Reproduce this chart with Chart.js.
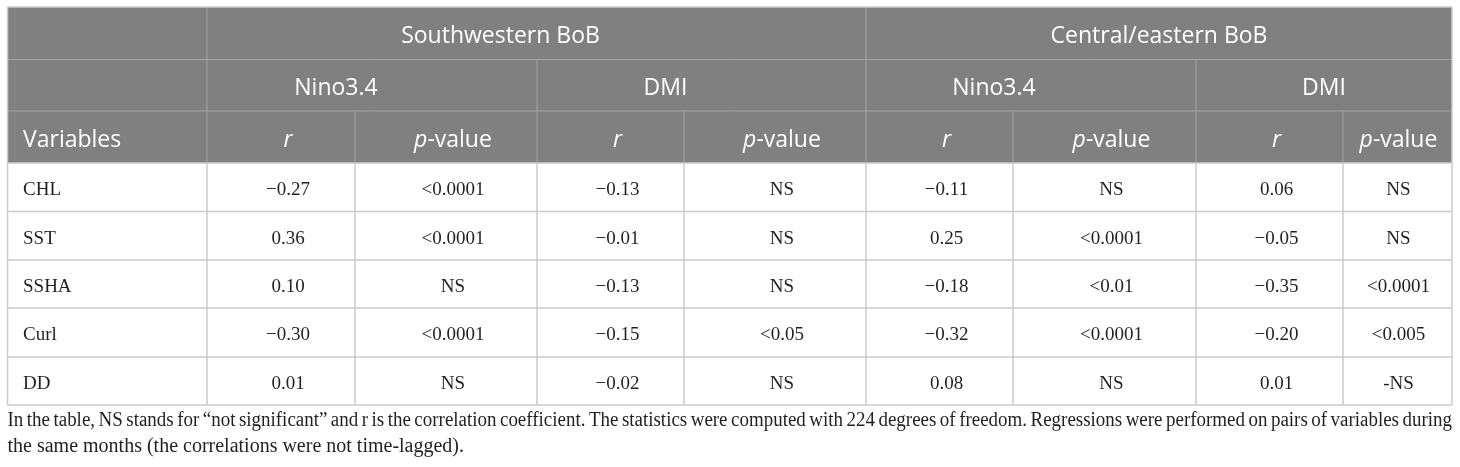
<!DOCTYPE html>
<html><head><meta charset="utf-8">
<script src="https://cdn.jsdelivr.net/npm/chart.js@4.4.0/dist/chart.umd.min.js"></script>
<style>html,body{margin:0;padding:0;background:#fff;}#wrap{width:1460px;height:467px;}</style>
</head><body><div id="wrap"><canvas id="c" width="1460" height="467"></canvas></div>
<script>
// ---- data ----
const variables = ['CHL','SST','SSHA','Curl','DD'];
const regions = ['Southwestern BoB','Central/eastern BoB'];
const indices = ['Nino3.4','DMI','Nino3.4','DMI'];
const firstHeader = 'Variables';
const swNinoR = [-0.27, 0.36, 0.10, -0.30, 0.01];
const swNinoP = ['<0.0001','<0.0001','NS','<0.0001','NS'];
const swDmiR  = [-0.13, -0.01, -0.13, -0.15, -0.02];
const swDmiP  = ['NS','NS','NS','<0.05','NS'];
const ceNinoR = [-0.11, 0.25, -0.18, -0.32, 0.08];
const ceNinoP = ['NS','<0.0001','<0.01','<0.0001','NS'];
const ceDmiR  = [0.06, -0.05, -0.35, -0.20, 0.01];
const ceDmiP  = ['NS','NS','<0.0001','<0.005','-NS'];
const footLines = [
  'In the table, NS stands for \u201cnot significant\u201d and r is the correlation coefficient. The statistics were computed with 224 degrees of freedom. Regressions were performed on pairs of variables during',
  'the same months (the correlations were not time-lagged).'
];

// ---- layout (positions in scale units) ----
const colEdges = [7.5, 207, 355, 537, 684, 866, 1013, 1196, 1343, 1452];
const rowEdges = [7, 59.5, 111, 163, 211.5, 260, 308, 357, 405];
const colTextShift = [0, 7, 7, 7, 7, 7, 7, 7, 1];
const footBaselines = [426, 452];

const fmtR = v => (v < 0 ? '\u2212' : '') + Math.abs(v).toFixed(2);
const dataCols = [swNinoR.map(fmtR), swNinoP, swDmiR.map(fmtR), swDmiP,
                  ceNinoR.map(fmtR), ceNinoP, ceDmiR.map(fmtR), ceDmiP];

const HEAD_BG = '#808080', HEAD_LINE = '#a4a4a4', GRID = '#cbcbcb', TXT = '#231f20';
const SANS = '"Open Sans"', SERIF = '"Liberation Serif"';

const tablePlugin = {
  id: 'tablePlugin',
  afterDraw(chart) {
    const ctx = chart.ctx, xs = chart.scales.x, ys = chart.scales.y;
    const X = v => xs.getPixelForValue(v), Y = v => ys.getPixelForValue(v);
    const L = colEdges[0], R = colEdges[colEdges.length - 1];
    ctx.save();
    ctx.fillStyle = HEAD_BG;
    ctx.fillRect(X(L), Y(rowEdges[0]), X(R) - X(L), Y(rowEdges[3]) - Y(rowEdges[0]));
    const line = (x1, y1, x2, y2, c, w) => {
      ctx.beginPath(); ctx.strokeStyle = c; ctx.lineWidth = w;
      ctx.moveTo(X(x1), Y(y1)); ctx.lineTo(X(x2), Y(y2)); ctx.stroke();
    };
    line(L, rowEdges[1], R, rowEdges[1], HEAD_LINE, 1);
    line(L, rowEdges[2], R, rowEdges[2], HEAD_LINE, 1);
    [1, 5].forEach(i => line(colEdges[i], rowEdges[0], colEdges[i], rowEdges[1], HEAD_LINE, 1));
    [1, 3, 5, 7].forEach(i => line(colEdges[i], rowEdges[1], colEdges[i], rowEdges[2], HEAD_LINE, 1));
    for (let i = 1; i < colEdges.length - 1; i++) line(colEdges[i], rowEdges[2], colEdges[i], rowEdges[3], HEAD_LINE, 1);
    line(L, rowEdges[0], R, rowEdges[0], GRID, 1.5);
    line(L, rowEdges[0], L, rowEdges[3], GRID, 1.5);
    line(R, rowEdges[0], R, rowEdges[3], GRID, 1.5);
    const last = rowEdges.length - 1;
    for (let r = 3; r <= last; r++) line(L, rowEdges[r], R, rowEdges[r], GRID, 1.5);
    for (let i = 0; i < colEdges.length; i++) line(colEdges[i], rowEdges[3], colEdges[i], rowEdges[last], GRID, 1.5);

    ctx.fillStyle = '#ffffff';
    ctx.textBaseline = 'alphabetic';
    ctx.font = '23px ' + SANS;
    ctx.textAlign = 'center';
    const hb = r => Y((rowEdges[r] + rowEdges[r + 1]) / 2) + 9.5;
    const spanC = (a, b, s) => X((colEdges[a] + colEdges[b]) / 2 + s);
    ctx.fillText(regions[0], spanC(1, 5, -36), hb(0));
    ctx.fillText(regions[1], spanC(5, 9, 0), hb(0));
    ctx.fillText(indices[0], spanC(1, 3, -36), hb(1));
    ctx.fillText(indices[1], spanC(3, 5, -36), hb(1));
    ctx.fillText(indices[2], spanC(5, 7, -37), hb(1));
    ctx.fillText(indices[3], spanC(7, 9, 0), hb(1));
    ctx.textAlign = 'left';
    ctx.fillText(firstHeader, X(colEdges[0] + 15.5), hb(2));
    for (let c = 1; c <= 8; c++) {
      const cx = X((colEdges[c] + colEdges[c + 1]) / 2 + colTextShift[c]);
      if (c % 2 === 1) {
        ctx.font = 'italic 23px ' + SANS;
        ctx.textAlign = 'center';
        ctx.fillText('r', cx, hb(2));
      } else {
        ctx.font = 'italic 23px ' + SANS;
        const wp = ctx.measureText('p').width;
        ctx.font = '23px ' + SANS;
        const wv = ctx.measureText('-value').width;
        const x0 = cx - (wp + wv) / 2;
        ctx.textAlign = 'left';
        ctx.font = 'italic 23px ' + SANS;
        ctx.fillText('p', x0, hb(2));
        ctx.font = '23px ' + SANS;
        ctx.fillText('-value', x0 + wp, hb(2));
      }
    }

    ctx.fillStyle = TXT;
    ctx.font = '19px ' + SERIF;
    for (let r = 0; r < variables.length; r++) {
      const by = Y((rowEdges[3 + r] + rowEdges[4 + r]) / 2) + 7.8;
      ctx.textAlign = 'left';
      ctx.fillText(variables[r], X(colEdges[0] + 15.5), by);
      ctx.textAlign = 'center';
      for (let c = 0; c < dataCols.length; c++) {
        const cx = X((colEdges[c + 1] + colEdges[c + 2]) / 2 + colTextShift[c + 1]);
        ctx.fillText(dataCols[c][r], cx, by);
      }
    }

    ctx.font = '20px ' + SERIF;
    ctx.textAlign = 'left';
    const words = footLines[0].split(' ');
    const ww = words.map(w => ctx.measureText(w).width);
    const sumW = ww.reduce((a, b) => a + b, 0);
    const target = X(R) - X(L);
    const minGap = 3.5;
    const sx = Math.min(1, (target - minGap * (words.length - 1)) / sumW);
    const gap = (target - sumW * sx) / (words.length - 1);
    let x = X(L);
    words.forEach((w, i) => {
      ctx.save();
      ctx.translate(x, Y(footBaselines[0]));
      ctx.scale(sx, 1);
      ctx.fillText(w, 0, 0);
      ctx.restore();
      x += ww[i] * sx + gap;
    });
    ctx.fillText(footLines[1], X(L), Y(footBaselines[1]));
    ctx.restore();
  }
};

function build() {
  new Chart(document.getElementById('c'), {
    type: 'scatter',
    data: { datasets: [{ data: [] }] },
    options: {
      responsive: false,
      animation: false,
      layout: { padding: 0 },
      plugins: { legend: { display: false }, tooltip: { enabled: false } },
      scales: {
        x: { type: 'linear', min: 0, max: 1460, display: false },
        y: { type: 'linear', min: 0, max: 467, reverse: true, display: false }
      }
    },
    plugins: [tablePlugin]
  });
}
Promise.all([
  document.fonts.load('23px "Open Sans"'),
  document.fonts.load('italic 23px "Open Sans"'),
  document.fonts.load('19px "Liberation Serif"'),
  document.fonts.load('20px "Liberation Serif"')
]).then(build, build);
</script>
</body></html>
